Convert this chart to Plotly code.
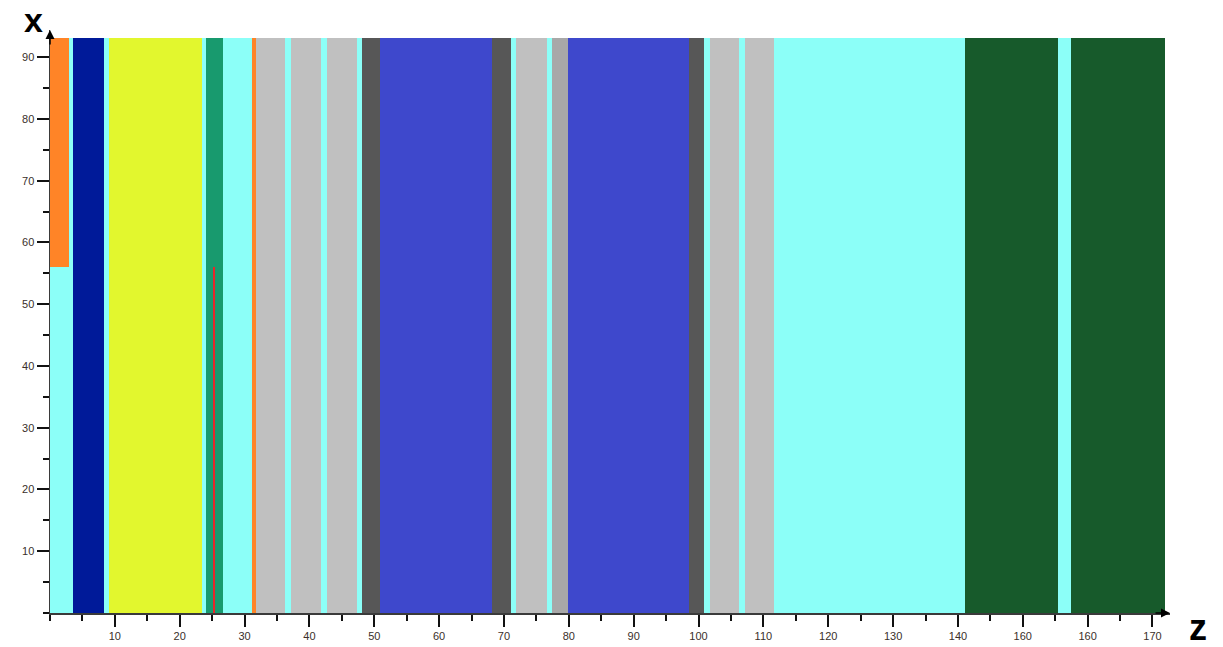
import plotly.graph_objects as go

# Band boundaries along z and the material colour of each band
edges = [0, 3.6, 8.4, 9.1, 23.4, 24.0, 26.6, 31.1, 31.7, 36.3, 37.2, 41.8, 42.7,
         47.3, 48.1, 50.9, 68.2, 71.1, 71.9, 76.7, 77.4, 79.8, 98.6, 100.8, 101.7,
         106.3, 107.1, 111.7, 141.1, 155.5, 157.4, 171.9]
materials = ["cyan", "darkblue", "cyan", "yellow", "cyan", "green", "cyan", "orange",
             "gray", "cyan", "gray", "cyan", "gray", "cyan", "darkgray", "blue",
             "darkgray", "cyan", "gray", "cyan", "midgray", "blue", "darkgray", "cyan",
             "gray", "cyan", "gray", "cyan", "darkgreen", "cyan", "darkgreen"]
palette = {
    "cyan": "#8CFFF8", "darkblue": "#001A99", "yellow": "#E2F72E", "green": "#189A6E",
    "orange": "#FF8427", "gray": "#C0C0C0", "darkgray": "#575757", "blue": "#3E48CC",
    "midgray": "#A8A8A8", "darkgreen": "#175A2B", "red": "#E8262A",
}
band_height = 93.1

# Extra inserts: (z start, z end, x bottom, x top, material)
inserts_z0 = [0.0, 25.15]
inserts_z1 = [3.0, 25.5]
inserts_x0 = [56.1, 0.0]
inserts_x1 = [93.1, 56.1]
inserts_mat = ["orange", "red"]

x_ticks = [10, 20, 30, 40, 50, 60, 70, 80, 90, 100, 110, 120, 130, 140, 150, 160, 170]
x_ticktext = ["10", "20", "30", "40", "50", "60", "70", "80", "90", "100", "110",
              "120", "130", "140", "160", "160", "170"]
y_ticks = [10, 20, 30, 40, 50, 60, 70, 80, 90]

fig = go.Figure()
fig.add_trace(go.Bar(
    x=[(a + b) / 2 for a, b in zip(edges[:-1], edges[1:])],
    width=[b - a for a, b in zip(edges[:-1], edges[1:])],
    y=[band_height] * len(materials),
    base=[0] * len(materials),
    marker=dict(color=[palette[m] for m in materials], line=dict(width=0)),
    showlegend=False, hoverinfo="skip",
))
fig.add_trace(go.Bar(
    x=[(a + b) / 2 for a, b in zip(inserts_z0, inserts_z1)],
    width=[b - a for a, b in zip(inserts_z0, inserts_z1)],
    y=[t - b for b, t in zip(inserts_x0, inserts_x1)],
    base=inserts_x0,
    marker=dict(color=[palette[m] for m in inserts_mat], line=dict(width=0)),
    showlegend=False, hoverinfo="skip",
))

axis_common = dict(
    showline=True, linecolor="#3a3a3a", linewidth=1.5, automargin=False,
    ticks="outside", ticklen=12, tickwidth=2, tickcolor="#111",
    showgrid=False, zeroline=False,
    tickfont=dict(family="Liberation Sans, Arial", size=11, color="#3a2f2a"),
    minor=dict(ticks="outside", ticklen=6, tickwidth=2, tickcolor="#111", dtick=5, showgrid=False),
)
fig.update_xaxes(range=[0, 172.7], tickvals=x_ticks, ticktext=x_ticktext, **axis_common)
fig.update_yaxes(range=[0, 94.4], tickvals=y_ticks, **axis_common)

# Page body margin is removed below, so the figure fills the window exactly.
W, H = 1223, 647
ML, MT = 50, 30
MR = W - 1170
MB = H - 613.5
pw, ph = W - ML - MR, H - MT - MB

def px_to_paper(px, py):
    return (px - ML) / pw, (H - MB - py) / ph

xt = px_to_paper(33, 0)
zt = px_to_paper(1198, 628)

fig.update_layout(
    template="none",
    width=W, height=H,
    margin=dict(l=ML, r=MR, t=MT, b=MB, pad=0),
    paper_bgcolor="white", plot_bgcolor="white",
    barmode="overlay", bargap=0,
    annotations=[
        dict(x=0, y=94.4, xref="x", yref="y", ax=0, ay=16, text="", showarrow=True,
             arrowhead=2, arrowsize=1.2, arrowwidth=1.5, arrowcolor="#000"),
        dict(x=172.7, y=0, xref="x", yref="y", ax=-16, ay=0, text="", showarrow=True,
             arrowhead=2, arrowsize=1.2, arrowwidth=1.5, arrowcolor="#000"),
        dict(x=xt[0], y=xt[1], xref="paper", yref="paper", text="<b>x</b>", showarrow=False,
             xanchor="center", yanchor="top", borderpad=0,
             font=dict(family="Liberation Sans, Arial", size=34, color="#000")),
        dict(x=zt[0], y=zt[1], xref="paper", yref="paper", text="<b>z</b>", showarrow=False,
             xanchor="center", yanchor="middle",
             font=dict(family="Liberation Sans, Arial", size=36, color="#000")),
    ],
)

fig.write_html(
    "out.html",
    config={"displayModeBar": False, "staticPlot": True},
    post_script="document.body.style.margin='0';document.body.style.overflow='hidden';",
)
